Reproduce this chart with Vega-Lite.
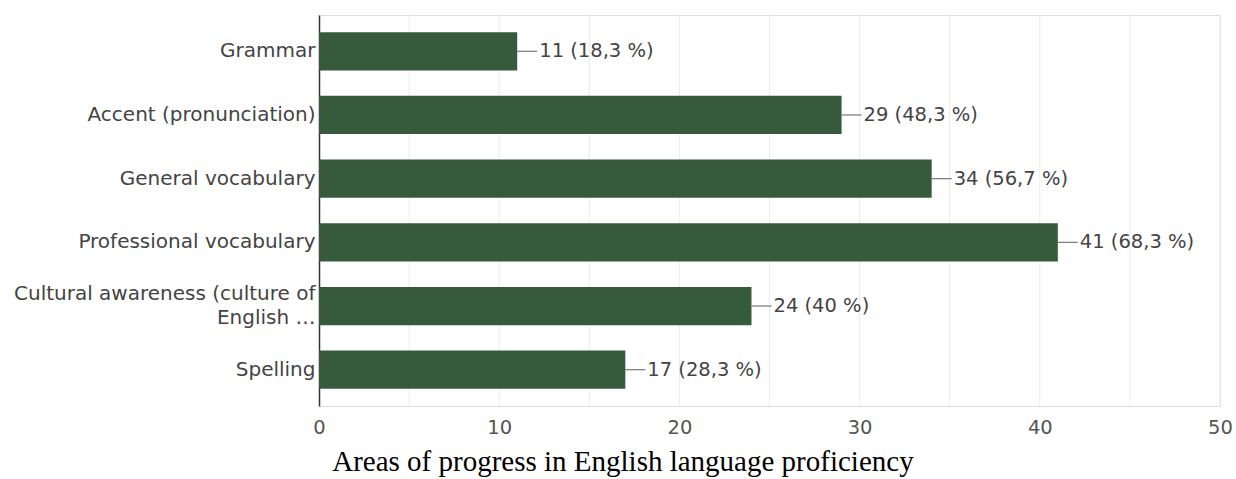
{
  "$schema": "https://vega.github.io/schema/vega-lite/v6.json",
  "width": 901,
  "height": 391,
  "padding": {"left": 13, "top": 14, "right": 0, "bottom": 0},
  "background": "white",
  "data": {
    "values": [
      {"area": "Grammar", "count": 11, "label": "11 (18,3 %)"},
      {"area": "Accent (pronunciation)", "count": 29, "label": "29 (48,3 %)"},
      {"area": "General vocabulary", "count": 34, "label": "34 (56,7 %)"},
      {"area": "Professional vocabulary", "count": 41, "label": "41 (68,3 %)"},
      {"area": "Cultural awareness (culture of English ...", "count": 24, "label": "24 (40 %)"},
      {"area": "Spelling", "count": 17, "label": "17 (28,3 %)"}
    ]
  },
  "title": {
    "text": "Areas of progress in English language proficiency",
    "orient": "bottom",
    "anchor": "middle",
    "frame": "bounds",
    "font": "Liberation Serif",
    "fontSize": 29,
    "fontWeight": "normal",
    "color": "#000000",
    "offset": 11
  },
  "encoding": {
    "y": {
      "field": "area",
      "type": "nominal",
      "sort": null,
      "scale": {"paddingInner": 0.4, "paddingOuter": 0.27},
      "axis": {
        "title": null,
        "ticks": false,
        "domain": true,
        "domainColor": "#333333",
        "domainWidth": 1.5,
        "labelFont": "DejaVu Sans",
        "labelFontSize": 20,
        "labelColor": "#444444",
        "labelPadding": 4,
        "labelLimit": 400,
        "labelLineHeight": 24,
        "labelOffset": {"condition": {"test": "datum.value == 'Cultural awareness (culture of English ...'", "value": -12}, "value": 0},
        "labelExpr": "datum.value == 'Cultural awareness (culture of English ...' ? ['Cultural awareness (culture of', 'English …'] : datum.value"
      }
    },
    "x": {
      "field": "count",
      "type": "quantitative",
      "scale": {"domain": [0, 50], "nice": false},
      "axis": {
        "title": null,
        "values": [0, 10, 20, 30, 40, 50],
        "ticks": false,
        "domain": false,
        "grid": false,
        "labelFlush": false,
        "labelFont": "DejaVu Sans",
        "labelFontSize": 19.5,
        "labelColor": "#555555",
        "labelPadding": 12
      }
    }
  },
  "layer": [
    {
      "data": {"values": [{"g": 5}, {"g": 10}, {"g": 15}, {"g": 20}, {"g": 25}, {"g": 30}, {"g": 35}, {"g": 40}, {"g": 45}, {"g": 50}]},
      "mark": {"type": "rule", "color": "#ececec", "strokeWidth": 1},
      "encoding": {
        "x": {"field": "g", "type": "quantitative"},
        "y": null
      }
    },
    {
      "mark": {"type": "bar", "color": "#385a3c"}
    },
    {
      "mark": {"type": "point", "shape": "M0,0L2,0", "size": 400, "filled": false, "stroke": "#777777", "strokeWidth": 1.2, "opacity": 1}
    },
    {
      "mark": {"type": "text", "align": "left", "baseline": "middle", "dx": 22, "font": "DejaVu Sans", "fontSize": 19.5, "color": "#444444"},
      "encoding": {"text": {"field": "label"}}
    }
  ]
}
